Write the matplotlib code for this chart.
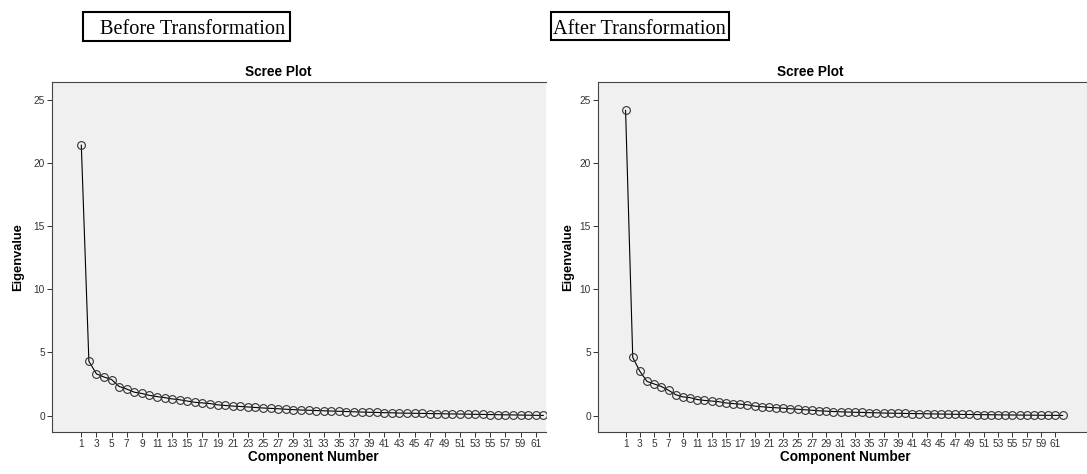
import matplotlib
matplotlib.use('Agg')
import matplotlib.pyplot as plt
from matplotlib.patches import Rectangle

W, H = 1087, 474

components = list(range(1, 63))

before_eigen = [21.4, 4.3, 3.3, 3.05, 2.85, 2.3, 2.1, 1.85, 1.75, 1.6,
                1.5, 1.42, 1.32, 1.25, 1.15, 1.05, 1.0, 0.95, 0.85, 0.8,
                0.75, 0.72, 0.68, 0.64, 0.6, 0.57, 0.54, 0.5, 0.47, 0.44,
                0.42, 0.4, 0.38, 0.36, 0.34, 0.32, 0.3, 0.28, 0.26, 0.25,
                0.23, 0.22, 0.2, 0.19, 0.18, 0.17, 0.16, 0.15, 0.14, 0.13,
                0.12, 0.11, 0.1, 0.09, 0.08, 0.07, 0.06, 0.05, 0.04, 0.03,
                0.02, 0.01]

after_eigen = [24.15, 4.6, 3.5, 2.7, 2.5, 2.3, 2.0, 1.65, 1.48, 1.42,
               1.27, 1.2, 1.15, 1.1, 1.0, 0.95, 0.9, 0.85, 0.75, 0.7,
               0.65, 0.62, 0.58, 0.54, 0.5, 0.46, 0.42, 0.38, 0.35, 0.32,
               0.3, 0.28, 0.26, 0.25, 0.23, 0.22, 0.2, 0.19, 0.18, 0.17,
               0.16, 0.15, 0.14, 0.13, 0.12, 0.11, 0.1, 0.09, 0.085, 0.08,
               0.07, 0.065, 0.06, 0.05, 0.045, 0.04, 0.035, 0.03, 0.025, 0.02,
               0.015, 0.01]

x_ticks = list(range(1, 62, 2))
y_ticks = [0, 5, 10, 15, 20, 25]

panel_names = ['Before Transformation', 'After Transformation']

sans = 'Liberation Sans'
serif = 'Liberation Serif'


def fx(px):
    return px / W


def fy(py):
    return 1 - py / H


def scree(rect, values, xlim):
    ax = fig.add_axes(rect)
    ax.set_facecolor('#f0f0f0')
    ax.plot(components, values, color='black', lw=0.8,
            marker='o', markersize=5.6, markerfacecolor='none',
            markeredgecolor='#333333', markeredgewidth=0.8)
    ax.set_xlim(*xlim)
    ax.set_ylim(-1.3, 26.4)
    ax.set_xticks(x_ticks)
    ax.set_yticks(y_ticks)
    ax.tick_params(direction='out', length=3.6, width=0.7, colors='#333333',
                   labelsize=7.3, pad=1.5)
    for lbl in ax.get_xticklabels() + ax.get_yticklabels():
        lbl.set_family(sans)
    for s in ['left', 'bottom', 'top']:
        ax.spines[s].set_color('#444444')
        ax.spines[s].set_linewidth(0.8)
    ax.spines['right'].set_visible(False)
    return ax


fig = plt.figure(figsize=(W / 100, H / 100), dpi=100)

# left panel (cropped on the right in the original)
scree([fx(52), fy(432), fx(546 - 52), (432 - 82) / H], before_eigen, (-2.87, 62.36))
# right panel
scree([fx(598), fy(432), fx(1087 - 598), (432 - 82) / H], after_eigen, (-2.85, 65.4))

# titles / axis labels
for cx, cy in [(278, 72), (810, 72)]:
    fig.text(fx(cx), fy(cy), 'Scree Plot', ha='center', va='center',
             fontsize=9.8, fontweight='bold', family=sans)
for cx, cy in [(313, 457), (845, 457)]:
    fig.text(fx(cx), fy(cy), 'Component Number', ha='center', va='center',
             fontsize=9.8, fontweight='bold', family=sans)
for cx, cy in [(18, 257), (568, 257)]:
    fig.text(fx(cx), fy(cy), 'Eigenvalue', ha='center', va='center',
             rotation=90, fontsize=9.3, fontweight='bold', family=sans)

# boxed captions
boxes = [(83, 12, 290, 41, 100), (551, 12, 729, 40, 553)]
for (x0, y0, x1, y1, tx), name in zip(boxes, panel_names):
    fig.patches.append(Rectangle((fx(x0), fy(y1)), fx(x1 - x0), (y1 - y0) / H,
                                 transform=fig.transFigure, fill=False,
                                 edgecolor='black', lw=1.5))
    fig.text(fx(tx), fy(33.5), name, ha='left', va='baseline',
             fontsize=14.6, family=serif)

plt.savefig('out.png', dpi=100)
